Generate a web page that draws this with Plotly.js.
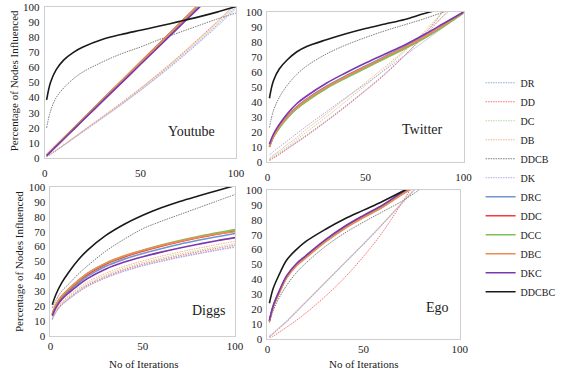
<!DOCTYPE html>
<html>
<head>
<meta charset="utf-8">
<script src="https://cdn.plot.ly/plotly-3.0.1.min.js"></script>
<style>html,body{margin:0;padding:0;background:#fff;}#chart{width:561px;height:373px;}</style>
</head>
<body>
<div id="chart"></div>
<script>
// Iterations (x values sampled from the curves)
const iterations = [1, 3, 6, 10, 15, 20, 30, 40, 50, 60, 70, 80, 90, 100];

const seriesNames = ["DR", "DD", "DC", "DB", "DDCB", "DK", "DRC", "DDC", "DCC", "DBC", "DKC", "DDCBC"];
const panelNames = ["Youtube", "Twitter", "Diggs", "Ego"];
const xTicks = [0, 50, 100];
const yTicks = [0, 10, 20, 30, 40, 50, 60, 70, 80, 90, 100];

// Youtube
const youtube_DR    = [1, 2.5, 5, 8.5, 13, 17.5, 26.5, 35.5, 45, 55, 65.5, 76.5, 88, 100];
const youtube_DD    = [1, 2.6, 5.2, 8.8, 13.4, 18, 27.2, 36.5, 46.2, 56.4, 67.2, 78.5, 90.2, 102.5];
const youtube_DC    = [1, 2.5, 5, 8.6, 13.1, 17.7, 26.8, 36, 45.6, 55.7, 66.3, 77.4, 89, 101];
const youtube_DB    = [1, 2.6, 5.1, 8.7, 13.3, 17.9, 27, 36.3, 46, 56.1, 66.8, 78, 89.8, 102];
const youtube_DDCB  = [20, 31, 40, 46.5, 52.5, 57, 63.5, 69, 73.5, 78.5, 83, 87.5, 92, 96];
const youtube_DK    = [1, 2.4, 4.9, 8.4, 12.9, 17.3, 26.2, 35.2, 44.6, 54.5, 64.8, 75.7, 87, 99];
const youtube_DRC   = [1.5, 4, 7.8, 12.8, 19, 25.2, 37.6, 50, 62.4, 74.8, 87.2, 99.6, 112, 124];
const youtube_DDC   = [2, 4.6, 8.4, 13.4, 19.7, 26, 38.5, 51, 63.5, 76, 88.5, 101, 113.5, 126];
const youtube_DCC   = [2, 4.5, 8.3, 13.3, 19.5, 25.8, 38.3, 50.8, 63.3, 75.8, 88.3, 100.8, 113, 125.5];
const youtube_DBC   = [1.8, 4.4, 8.2, 13.2, 19.4, 25.6, 38.1, 50.6, 63.1, 75.6, 88, 100.5, 113, 125];
const youtube_DKC   = [1.5, 4, 7.7, 12.6, 18.8, 25, 37.3, 49.6, 61.9, 74.2, 86.5, 98.8, 111, 123];
const youtube_DDCBC = [38.5, 50, 58.5, 65, 70, 73.5, 78.5, 81.8, 84.6, 87.4, 90.3, 93.3, 96.6, 100.3];

// Twitter
const twitter_DR    = [1.5, 3, 5.5, 9, 13.5, 18, 27.5, 37.5, 48, 59, 71, 84, 98, 112];
const twitter_DD    = [1, 2.5, 5, 8.5, 13, 17.5, 27, 37, 47.5, 58.5, 71, 85, 101, 117];
const twitter_DC    = [2, 4, 6.5, 10, 15, 20, 30, 40.5, 51, 62, 74, 87, 101, 115];
const twitter_DB    = [2.5, 4.5, 7.5, 11.5, 16.5, 22, 32, 42.5, 53, 63.5, 74.5, 86, 97.5, 109];
const twitter_DDCB  = [23, 34, 43, 51, 58.5, 64, 72, 78, 83, 87.5, 91.5, 95.5, 100, 104];
const twitter_DK    = [4.5, 7, 10, 14, 19, 24, 33.5, 43, 52, 61.5, 71, 80.5, 90, 99.5];
const twitter_DRC   = [11, 17.5, 24, 30.5, 37, 42, 50.5, 57.5, 64, 70.5, 77, 84, 91.5, 100];
const twitter_DDC   = [10, 16.5, 23, 30, 36.5, 41.5, 50, 57, 63.5, 69.5, 76, 83, 91, 99.5];
const twitter_DCC   = [10, 16.5, 22.5, 29, 35.5, 40.5, 49, 56, 62.5, 69, 75.5, 82.5, 90.5, 99.5];
const twitter_DBC   = [10.5, 17, 23.5, 30, 36.5, 41.5, 50, 57, 63.5, 70, 76.5, 83.5, 91.5, 100];
const twitter_DKC   = [12, 18.5, 25, 32, 39, 44, 52.5, 59.5, 66, 72, 78, 85, 92.5, 100];
const twitter_DDCBC = [42.5, 54, 62, 68, 73.5, 77, 81.5, 85.5, 89, 92, 95, 99, 102.5, 106];

// Diggs
const diggs_DR    = [11, 16, 20.7, 24.9, 29.5, 33.5, 39.3, 43.8, 47.4, 50.4, 53.1, 55.5, 57.8, 60];
const diggs_DD    = [11.5, 16.5, 21.2, 25.5, 30.2, 34.2, 40, 44.6, 48.2, 51.3, 54, 56.5, 58.8, 61];
const diggs_DC    = [12, 17, 21.8, 26.2, 31, 35.1, 41, 45.6, 49.2, 52.3, 55.1, 57.5, 59.8, 62];
const diggs_DB    = [12.5, 17.5, 22.5, 27, 32, 36.2, 42.2, 46.8, 50.4, 53.6, 56.4, 58.9, 61.3, 63.6];
const diggs_DDCB  = [19, 24, 30, 35, 41.5, 47, 57, 65, 72, 77, 81.5, 86, 90.5, 95];
const diggs_DK    = [11, 15.8, 20.5, 24.6, 29.2, 33.2, 38.9, 43.4, 47, 50, 52.7, 55.1, 57.4, 59.5];
const diggs_DRC   = [14, 19.8, 25.2, 30, 35.3, 40, 46.8, 51.6, 55.4, 58.6, 61.6, 64.2, 66.6, 68.8];
const diggs_DDC   = [14.5, 20.5, 26, 31, 36.5, 41.3, 48.2, 53.1, 56.9, 60.2, 63.2, 65.9, 68.3, 70.5];
const diggs_DCC   = [15, 21, 26.5, 31.5, 37, 42, 48.8, 53.7, 57.6, 61, 64, 66.7, 69.2, 71.4];
const diggs_DBC   = [15, 21.3, 26.8, 31.8, 37.3, 42, 48.9, 53.8, 57.5, 60.7, 63.6, 66.2, 68.5, 70];
const diggs_DKC   = [13.5, 19, 24.3, 29, 34, 38.5, 45, 49.6, 53.2, 56.3, 59.1, 61.6, 63.9, 66];
const diggs_DDCBC = [21, 28, 35.5, 43, 51, 57.5, 67.5, 75, 81, 86, 90.3, 94, 97.5, 101];

// Ego
const ego_DR    = [1.5, 3.5, 7, 11.5, 18, 24.5, 37.5, 50.5, 63.5, 77, 91, 105, 119, 133];
const ego_DD    = [1, 2, 4.5, 8, 12.5, 17.5, 28.5, 41, 55.5, 72, 91.5, 112, 133, 154];
const ego_DC    = [1.5, 3.8, 7.4, 12, 18.5, 25, 38, 51, 64, 77.5, 91.5, 105.5, 120, 134];
const ego_DB    = [2, 4, 7.6, 12.3, 18.8, 25.3, 38.3, 51.3, 64.3, 77.8, 91.8, 106, 120, 134];
const ego_DDCB  = [11, 19, 27.5, 36, 44.5, 51, 62, 71, 78.5, 85.5, 92.5, 101, 109, 117];
const ego_DK    = [1.8, 3.8, 7.2, 11.8, 18.2, 24.8, 37.8, 50.8, 63.8, 77.2, 91.2, 105.2, 119, 133];
const ego_DRC   = [12, 22, 31, 41.5, 49.5, 55, 65.5, 74.5, 82, 89, 97.5, 105, 112.5, 120];
const ego_DDC   = [12, 22, 31.5, 42, 50, 55.5, 66, 75, 82.5, 89.5, 98, 105.5, 113, 120.5];
const ego_DCC   = [12, 21.8, 30.8, 41.3, 49.3, 54.8, 65.3, 74.3, 81.8, 88.8, 97.3, 104.8, 112.3, 120];
const ego_DBC   = [11.8, 21.6, 30.6, 41, 49, 54.5, 65, 74, 81.5, 88.5, 97, 104.5, 112, 119.5];
const ego_DKC   = [12.5, 22.5, 32, 42.5, 50.5, 56, 66.5, 75.5, 83, 90, 98.5, 106, 113.5, 121];
const ego_DDCBC = [24, 34, 43, 53, 60, 65.5, 73.5, 80.5, 86.5, 92.5, 99, 106, 113, 120];

const panels = [
  [youtube_DR, youtube_DD, youtube_DC, youtube_DB, youtube_DDCB, youtube_DK, youtube_DRC, youtube_DDC, youtube_DCC, youtube_DBC, youtube_DKC, youtube_DDCBC],
  [twitter_DR, twitter_DD, twitter_DC, twitter_DB, twitter_DDCB, twitter_DK, twitter_DRC, twitter_DDC, twitter_DCC, twitter_DBC, twitter_DKC, twitter_DDCBC],
  [diggs_DR, diggs_DD, diggs_DC, diggs_DB, diggs_DDCB, diggs_DK, diggs_DRC, diggs_DDC, diggs_DCC, diggs_DBC, diggs_DKC, diggs_DDCBC],
  [ego_DR, ego_DD, ego_DC, ego_DB, ego_DDCB, ego_DK, ego_DRC, ego_DDC, ego_DCC, ego_DBC, ego_DKC, ego_DDCBC]
];

const DOT = "1.5px,1px";
const styles = [
  {color: "#8faadc", dash: DOT, width: 1},
  {color: "#ff6f73", dash: DOT, width: 1},
  {color: "#b5d99c", dash: DOT, width: 1},
  {color: "#f6b48a", dash: DOT, width: 1},
  {color: "#7a7a7a", dash: DOT, width: 1},
  {color: "#b9a6e0", dash: DOT, width: 1},
  {color: "#7096d0", dash: "solid", width: 1.6},
  {color: "#f53b3b", dash: "solid", width: 1.6},
  {color: "#7cc05a", dash: "solid", width: 1.6},
  {color: "#ee8a55", dash: "solid", width: 1.6},
  {color: "#7a38b0", dash: "solid", width: 1.6},
  {color: "#1a1a1a", dash: "solid", width: 1.6}
];

const FONT = "Liberation Serif, Times New Roman, serif";
const axisIds = [["x", "y"], ["x2", "y2"], ["x3", "y3"], ["x4", "y4"]];

const traces = [];
panels.forEach((series, p) => {
  series.forEach((vals, i) => {
    traces.push({
      type: "scatter", mode: "lines",
      x: iterations, y: vals,
      name: seriesNames[i],
      legendgroup: seriesNames[i],
      showlegend: p === 0,
      xaxis: axisIds[p][0], yaxis: axisIds[p][1],
      line: {color: styles[i].color, dash: styles[i].dash, width: styles[i].width, shape: "spline", smoothing: 1},
      hoverinfo: "skip"
    });
  });
});

function xa(domain, tl) {
  return {domain: domain, range: [0, 100], tickvals: xTicks, ticktext: xTicks.map(String),
    showgrid: false, zeroline: false, showline: true, mirror: true, linecolor: "#cfcfcf", linewidth: 1,
    ticks: "outside", ticklen: tl, tickcolor: "rgba(0,0,0,0)", tickfont: {family: FONT, size: 11, color: "#222"}, fixedrange: true};
}
function ya(domain) {
  return {domain: domain, range: [0, 100], tickvals: yTicks, ticktext: yTicks.map(String),
    showgrid: false, zeroline: false, showline: true, mirror: true, linecolor: "#cfcfcf", linewidth: 1,
    ticks: "outside", ticklen: 2, tickcolor: "rgba(0,0,0,0)", tickfont: {family: FONT, size: 11, color: "#222"}, fixedrange: true};
}

const W = 561, H = 373;
const px = (a, b) => [a / W, b / W];
const py = (top, bottom) => [1 - bottom / H, 1 - top / H];

function ann(text, x, y, size, angle) {
  return {text: text, xref: "paper", yref: "paper", x: x / W, y: 1 - y / H, xanchor: "center", yanchor: "middle",
    textangle: angle || 0, showarrow: false, font: {family: FONT, size: size, color: "#1a1a1a"}};
}

const layout = {
  width: W, height: H,
  margin: {l: 0, r: 0, t: 0, b: 0},
  paper_bgcolor: "#fff", plot_bgcolor: "#fff",
  showlegend: true,
  legend: {x: 0.9, y: 0.817, xanchor: "left", yanchor: "top", font: {family: FONT, size: 10, color: "#222"},
    bgcolor: "rgba(0,0,0,0)", itemwidth: 30, tracegroupgap: 0},
  xaxis: Object.assign(xa(px(47, 248), 5), {anchor: "y"}),
  yaxis: Object.assign(ya(py(7, 158)), {anchor: "x"}),
  xaxis2: Object.assign(xa(px(281, 487), 5), {anchor: "y2"}),
  yaxis2: Object.assign(ya(py(12, 162)), {anchor: "x2"}),
  xaxis3: Object.assign(xa(px(53, 247), 0), {anchor: "y3"}),
  yaxis3: Object.assign(ya(py(187, 336)), {anchor: "x3"}),
  xaxis4: Object.assign(xa(px(281, 483), 0), {anchor: "y4"}),
  yaxis4: Object.assign(ya(py(190, 339)), {anchor: "x4"}),
  annotations: [
    ann(panelNames[0], 201, 131, 14),
    ann(panelNames[1], 444, 129, 14),
    ann(panelNames[2], 219, 310, 14),
    ann(panelNames[3], 460, 307, 14),
    ann("Percentage of Nodes Influenced", 15, 81, 11, -90),
    ann("Percentage of Nodes Influenced", 20, 262, 11, -90),
    ann("No of Iterations", 151, 364, 11),
    ann("No of Iterations", 382, 364, 11)
  ]
};

Plotly.newPlot("chart", traces, layout, {staticPlot: true, displayModeBar: false});
</script>
</body>
</html>
